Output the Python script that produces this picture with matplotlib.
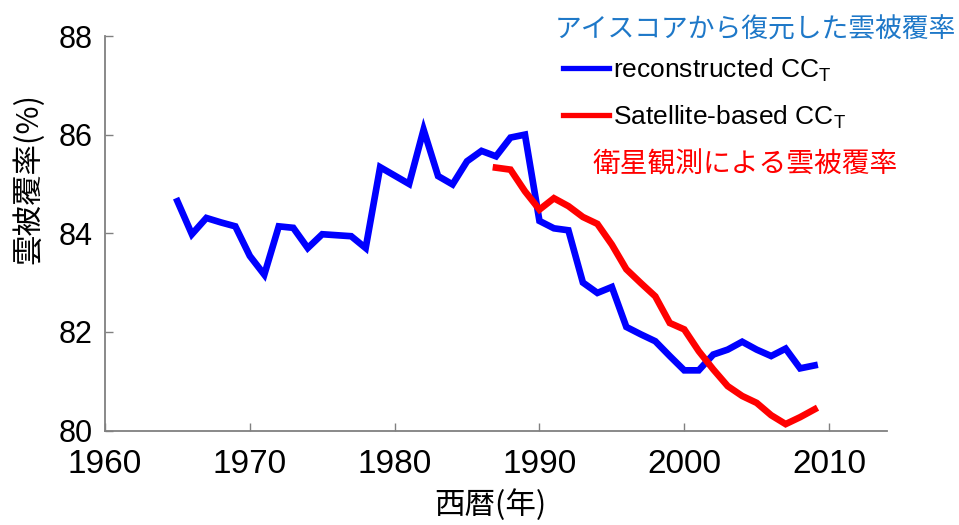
import matplotlib.pyplot as plt
from matplotlib.lines import Line2D

plt.rcParams['font.family'] = ['Liberation Sans', 'Noto Sans CJK JP', 'DejaVu Sans']
plt.rcParams['mathtext.fontset'] = 'custom'
plt.rcParams['mathtext.rm'] = 'Liberation Sans'

# reconstructed cloud cover (ice core), 1965-2009
recon_years = list(range(1965, 2010))
recon_cc = [84.65, 83.98, 84.31, 84.22, 84.14, 83.54, 83.16, 84.14, 84.11, 83.70,
            83.98, 83.96, 83.94, 83.70, 85.34, 85.17, 85.00, 86.10, 85.16, 84.99,
            85.46, 85.67, 85.56, 85.94, 86.00, 84.25, 84.10, 84.06, 83.00, 82.79,
            82.91, 82.10, 81.95, 81.81, 81.51, 81.22, 81.22, 81.54, 81.64, 81.80,
            81.64, 81.51, 81.66, 81.26, 81.32]

# satellite-based cloud cover, 1987-2009
sat_years = list(range(1987, 2010))
sat_cc = [85.33, 85.29, 84.85, 84.48, 84.71, 84.55, 84.33, 84.19, 83.77, 83.27,
          82.99, 82.72, 82.18, 82.05, 81.61, 81.24, 80.90, 80.70, 80.56, 80.31,
          80.13, 80.27, 80.43]

x_ticks = [1960, 1970, 1980, 1990, 2000, 2010]
y_ticks = [80, 82, 84, 86, 88]

fig = plt.figure(figsize=(9.59, 5.25), dpi=100)
ax = fig.add_axes([105 / 959, 1 - 430.5 / 525, (887 - 105) / 959, (430.5 - 36) / 525])

ax.plot(recon_years, recon_cc, color='#0000ff', lw=4.8, solid_joinstyle='miter')
ax.plot(sat_years, sat_cc, color='#ff0000', lw=4.8, solid_joinstyle='miter')

ax.set_xlim(1960, 2014)
ax.set_ylim(80, 88)
ax.set_xticks(x_ticks)
ax.set_yticks(y_ticks)

for side in ['top', 'right']:
    ax.spines[side].set_visible(False)
for side in ['left', 'bottom']:
    ax.spines[side].set_color('#808080')
    ax.spines[side].set_linewidth(1.3)

ax.tick_params(direction='in', length=6, width=1, color='#808080')
ax.tick_params(axis='y', labelsize=22, pad=9)
ax.tick_params(axis='x', labelsize=24, pad=13)

fig.text(28.5 / 959, 1 - 178 / 525, '雲被覆率(%)', rotation=90, ha='center', va='center',
         fontsize=22, family=['Noto Sans CJK JP', 'DejaVu Sans'])
fig.text(490 / 959, 1 - 505 / 525, '西暦(年)', ha='center', va='center',
         fontsize=22, family=['Noto Sans CJK JP', 'DejaVu Sans'])

fig.text(956 / 959, 1 - 30 / 525, 'アイスコアから復元した雲被覆率', ha='right', va='center',
         fontsize=19.3, color='#1e78c8', family=['Noto Sans CJK JP', 'DejaVu Sans'])
fig.text(745 / 959, 1 - 165 / 525, '衛星観測による雲被覆率', ha='center', va='center',
         fontsize=20, color='#ff0000', family=['Noto Sans CJK JP', 'DejaVu Sans'])

handles = [Line2D([], [], color='#0000ff', lw=3.8),
           Line2D([], [], color='#ff0000', lw=3.8)]
labels = [r'reconstructed CC$_\mathregular{T}$', r'Satellite-based CC$_\mathregular{T}$']
fig.legend(handles, labels, loc='upper left', bbox_to_anchor=(563 / 959, 1 - 56 / 525),
           frameon=False, fontsize=19, handlelength=1.75, handletextpad=0.15,
           labelspacing=0.75, borderpad=0, borderaxespad=0)

fig.savefig('out.png', dpi=100)
